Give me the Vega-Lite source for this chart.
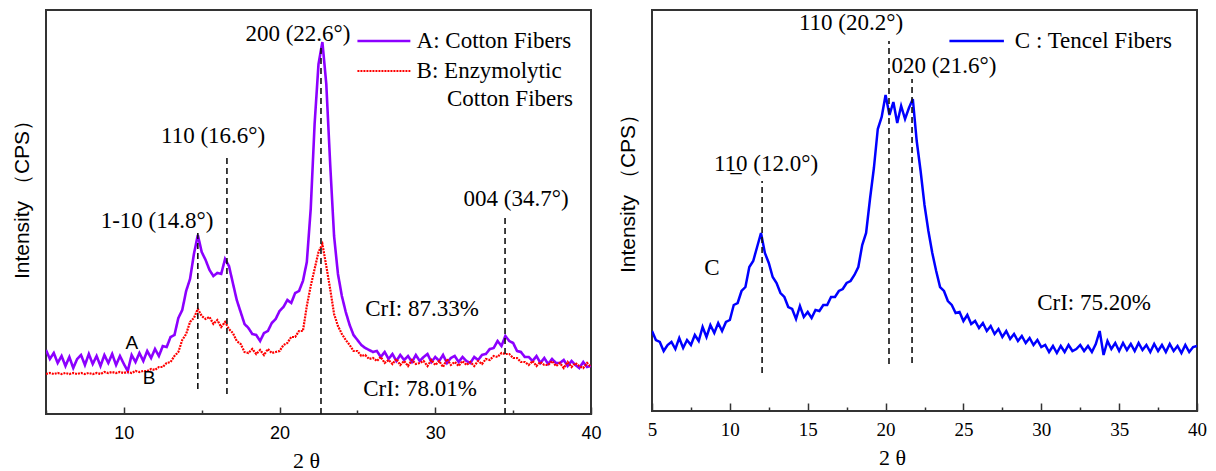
{
"$schema":"https://vega.github.io/schema/vega-lite/v6.json",
"padding":{"left":10,"top":9,"right":0,"bottom":0},
"spacing":13,
"datasets":{
"left":[
{"x":5,"A":64,"B":40},{"x":5.25,"A":55,"B":41},{"x":5.5,"A":61,"B":40},{"x":5.75,"A":51,"B":41},{"x":6,"A":58,"B":40},{"x":6.25,"A":48,"B":41},{"x":6.5,"A":57,"B":40},{"x":6.75,"A":46,"B":41},{"x":7,"A":55,"B":40},{"x":7.25,"A":59,"B":41},{"x":7.5,"A":49,"B":40},{"x":7.75,"A":60,"B":41},{"x":8,"A":50,"B":40},{"x":8.25,"A":58,"B":41},{"x":8.5,"A":48,"B":40},{"x":8.75,"A":59,"B":42},{"x":9,"A":51,"B":41},{"x":9.25,"A":60,"B":42},{"x":9.5,"A":49,"B":41},{"x":9.75,"A":58,"B":42},{"x":10,"A":50,"B":41},{"x":10.25,"A":43,"B":42},{"x":10.5,"A":59,"B":41},{"x":10.75,"A":52,"B":43},{"x":11,"A":61,"B":42},{"x":11.25,"A":53,"B":43},{"x":11.5,"A":63,"B":43},{"x":11.75,"A":56,"B":45},{"x":12,"A":65,"B":44},{"x":12.25,"A":58,"B":47},{"x":12.5,"A":68,"B":47},{"x":12.75,"A":67,"B":51},{"x":13,"A":77,"B":52},{"x":13.25,"A":79,"B":58},{"x":13.5,"A":96,"B":62},{"x":13.75,"A":104,"B":74},{"x":14,"A":123,"B":80},{"x":14.25,"A":135,"B":92},{"x":14.5,"A":160,"B":96},{"x":14.75,"A":179,"B":105},{"x":15,"A":162,"B":98},{"x":15.25,"A":154,"B":95},{"x":15.5,"A":144,"B":97},{"x":15.75,"A":138,"B":90},{"x":16,"A":141,"B":94},{"x":16.25,"A":140,"B":87},{"x":16.5,"A":155,"B":92},{"x":16.75,"A":148,"B":85},{"x":17,"A":131,"B":81},{"x":17.25,"A":114,"B":73},{"x":17.5,"A":102,"B":70},{"x":17.75,"A":90,"B":62},{"x":18,"A":86,"B":61},{"x":18.25,"A":80,"B":65},{"x":18.5,"A":79,"B":60},{"x":18.75,"A":73,"B":64},{"x":19,"A":81,"B":59},{"x":19.25,"A":83,"B":65},{"x":19.5,"A":91,"B":61},{"x":19.75,"A":95,"B":62},{"x":20,"A":103,"B":63},{"x":20.25,"A":107,"B":69},{"x":20.5,"A":114,"B":71},{"x":20.75,"A":111,"B":77},{"x":21,"A":121,"B":77},{"x":21.25,"A":123,"B":83},{"x":21.5,"A":133,"B":83},{"x":21.75,"A":152,"B":108},{"x":22,"A":205,"B":128},{"x":22.25,"A":290,"B":145},{"x":22.5,"A":350,"B":162},{"x":22.75,"A":372,"B":170},{"x":23,"A":330,"B":148},{"x":23.25,"A":250,"B":125},{"x":23.5,"A":178,"B":100},{"x":23.75,"A":140,"B":88},{"x":24,"A":118,"B":80},{"x":24.25,"A":102,"B":74},{"x":24.5,"A":89,"B":69},{"x":24.75,"A":79,"B":63},{"x":25,"A":74,"B":63},{"x":25.25,"A":69,"B":58},{"x":25.5,"A":66,"B":59},{"x":25.75,"A":64,"B":55},{"x":26,"A":62,"B":56},{"x":26.25,"A":63,"B":53},{"x":26.5,"A":57,"B":57},{"x":26.75,"A":62,"B":51},{"x":27,"A":55,"B":54},{"x":27.25,"A":60,"B":50},{"x":27.5,"A":53,"B":55},{"x":27.75,"A":59,"B":49},{"x":28,"A":54,"B":53},{"x":28.25,"A":58,"B":48},{"x":28.5,"A":52,"B":54},{"x":28.75,"A":59,"B":50},{"x":29,"A":53,"B":51},{"x":29.25,"A":57,"B":53},{"x":29.5,"A":60,"B":48},{"x":29.75,"A":52,"B":54},{"x":30,"A":57,"B":49},{"x":30.25,"A":53,"B":53},{"x":30.5,"A":59,"B":47},{"x":30.75,"A":51,"B":55},{"x":31,"A":56,"B":49},{"x":31.25,"A":58,"B":52},{"x":31.5,"A":52,"B":48},{"x":31.75,"A":57,"B":53},{"x":32,"A":53,"B":49},{"x":32.25,"A":51,"B":52},{"x":32.5,"A":57,"B":48},{"x":32.75,"A":54,"B":53},{"x":33,"A":59,"B":50},{"x":33.25,"A":60,"B":55},{"x":33.5,"A":65,"B":54},{"x":33.75,"A":66,"B":58},{"x":34,"A":73,"B":57},{"x":34.25,"A":68,"B":61},{"x":34.5,"A":78,"B":60},{"x":34.75,"A":73,"B":60},{"x":35,"A":71,"B":56},{"x":35.25,"A":63,"B":56},{"x":35.5,"A":62,"B":52},{"x":35.75,"A":57,"B":52},{"x":36,"A":57,"B":49},{"x":36.25,"A":53,"B":53},{"x":36.5,"A":58,"B":48},{"x":36.75,"A":51,"B":52},{"x":37,"A":56,"B":49},{"x":37.25,"A":50,"B":49},{"x":37.5,"A":55,"B":53},{"x":37.75,"A":51,"B":48},{"x":38,"A":51,"B":51},{"x":38.25,"A":54,"B":46},{"x":38.5,"A":48,"B":52},{"x":38.75,"A":53,"B":47},{"x":39,"A":49,"B":51},{"x":39.25,"A":46,"B":48},{"x":39.5,"A":52,"B":46},{"x":39.75,"A":47,"B":51},{"x":40,"A":48,"B":47}
],
"right":[
{"x":5,"C":80},{"x":5.25,"C":71},{"x":5.5,"C":69},{"x":5.75,"C":60},{"x":6,"C":66},{"x":6.25,"C":69},{"x":6.5,"C":62},{"x":6.75,"C":73},{"x":7,"C":63},{"x":7.25,"C":71},{"x":7.5,"C":66},{"x":7.75,"C":76},{"x":8,"C":70},{"x":8.25,"C":84},{"x":8.5,"C":74},{"x":8.75,"C":86},{"x":9,"C":78},{"x":9.25,"C":88},{"x":9.5,"C":80},{"x":9.75,"C":89},{"x":10,"C":91},{"x":10.25,"C":106},{"x":10.5,"C":108},{"x":10.75,"C":120},{"x":11,"C":124},{"x":11.25,"C":144},{"x":11.5,"C":150},{"x":11.75,"C":164},{"x":12,"C":178},{"x":12.25,"C":158},{"x":12.5,"C":148},{"x":12.75,"C":134},{"x":13,"C":128},{"x":13.25,"C":118},{"x":13.5,"C":114},{"x":13.75,"C":104},{"x":14,"C":102},{"x":14.25,"C":92},{"x":14.5,"C":105},{"x":14.75,"C":94},{"x":15,"C":99},{"x":15.25,"C":93},{"x":15.5,"C":101},{"x":15.75,"C":100},{"x":16,"C":106},{"x":16.25,"C":106},{"x":16.5,"C":114},{"x":16.75,"C":114},{"x":17,"C":120},{"x":17.25,"C":122},{"x":17.5,"C":128},{"x":17.75,"C":130},{"x":18,"C":136},{"x":18.25,"C":144},{"x":18.5,"C":166},{"x":18.75,"C":178},{"x":19,"C":212},{"x":19.25,"C":243},{"x":19.5,"C":282},{"x":19.75,"C":294},{"x":20,"C":316},{"x":20.25,"C":296},{"x":20.5,"C":309},{"x":20.75,"C":288},{"x":21,"C":305},{"x":21.25,"C":292},{"x":21.5,"C":303},{"x":21.75,"C":312},{"x":22,"C":270},{"x":22.25,"C":240},{"x":22.5,"C":206},{"x":22.75,"C":180},{"x":23,"C":158},{"x":23.25,"C":140},{"x":23.5,"C":124},{"x":23.75,"C":120},{"x":24,"C":110},{"x":24.25,"C":106},{"x":24.5,"C":98},{"x":24.75,"C":99},{"x":25,"C":90},{"x":25.25,"C":96},{"x":25.5,"C":87},{"x":25.75,"C":90},{"x":26,"C":83},{"x":26.25,"C":88},{"x":26.5,"C":80},{"x":26.75,"C":85},{"x":27,"C":77},{"x":27.25,"C":82},{"x":27.5,"C":74},{"x":27.75,"C":80},{"x":28,"C":72},{"x":28.25,"C":77},{"x":28.5,"C":70},{"x":28.75,"C":75},{"x":29,"C":68},{"x":29.25,"C":73},{"x":29.5,"C":66},{"x":29.75,"C":71},{"x":30,"C":64},{"x":30.25,"C":66},{"x":30.5,"C":59},{"x":30.75,"C":65},{"x":31,"C":58},{"x":31.25,"C":65},{"x":31.5,"C":59},{"x":31.75,"C":66},{"x":32,"C":60},{"x":32.25,"C":62},{"x":32.5,"C":66},{"x":32.75,"C":60},{"x":33,"C":65},{"x":33.25,"C":59},{"x":33.5,"C":67},{"x":33.75,"C":80},{"x":34,"C":56},{"x":34.25,"C":70},{"x":34.5,"C":62},{"x":34.75,"C":68},{"x":35,"C":60},{"x":35.25,"C":68},{"x":35.5,"C":61},{"x":35.75,"C":67},{"x":36,"C":60},{"x":36.25,"C":68},{"x":36.5,"C":61},{"x":36.75,"C":66},{"x":37,"C":59},{"x":37.25,"C":67},{"x":37.5,"C":60},{"x":37.75,"C":66},{"x":38,"C":59},{"x":38.25,"C":67},{"x":38.5,"C":60},{"x":38.75,"C":65},{"x":39,"C":58},{"x":39.25,"C":66},{"x":39.5,"C":59},{"x":39.75,"C":64},{"x":40,"C":65}
],
"leftRules":[{"x":14.75,"y":25,"y2":183},{"x":16.62,"y":20,"y2":256},{"x":22.66,"y":0,"y2":370},{"x":34.48,"y":0,"y2":196}],
"rightRules":[{"x":12.07,"y":38,"y2":230},{"x":20.22,"y":47,"y2":370},{"x":21.7,"y":48,"y2":332}],
"leftSerif":[{"x":21.18,"y":380,"t":"200 (22.6°)"},{"x":15.73,"y":278,"t":"110 (16.6°)"},{"x":12.13,"y":193,"t":"1-10 (14.8°)"},{"x":35.19,"y":215,"t":"004 (34.7°)"},{"x":29.15,"y":105,"t":"CrI: 87.33%"},{"x":29.02,"y":25,"t":"CrI: 78.01%"}],
"leftSans":[{"x":10.52,"y":71,"t":"A"},{"x":11.62,"y":36,"t":"B"}],
"leftLegendText":[{"x":28.8,"y":373,"t":"A: Cotton Fibers"},{"x":28.8,"y":343,"t":"B: Enzymolytic"},{"x":30.75,"y":315,"t":"Cotton Fibers"}],
"leftLegendLines":[{"series":"A","x":25.0,"x2":28.4,"y":373},{"series":"B","x":25.0,"x2":28.4,"y":343}],
"rightSerif":[{"x":17.78,"y":388,"t":"110 (20.2°)"},{"x":23.75,"y":345,"t":"020 (21.6°)"},{"x":12.32,"y":247,"t":"11\u03320 (12.0°)"},{"x":8.85,"y":143,"t":"C"},{"x":33.39,"y":108,"t":"CrI: 75.20%"}],
"rightLegendText":[{"x":28.3,"y":370,"t":"C : Tencel Fibers"}],
"rightLegendLines":[{"x":24.1,"x2":27.6,"y":370}]
},
"hconcat":[
{
"width":545,"height":404,
"encoding":{
"x":{"field":"x","type":"quantitative","scale":{"domain":[5,40],"nice":false,"zero":false},
"axis":{"values":[5,10,15,20,25,30,35,40],"labelExpr":"datum.value % 10 === 0 ? datum.label : ''","labelFont":"Liberation Sans","labelFontSize":18,"labelColor":"#000","labelPadding":17,"labelFlush":false,"tickSize":{"condition":{"test":"datum.value % 10 === 0","value":-7},"value":-4},"tickColor":"#333","tickWidth":1.5,"domain":false,"grid":false,"title":"2 θ","titleFont":"Liberation Serif","titleFontSize":22,"titleFontWeight":"normal","titleColor":"#000","titlePadding":8,"titleX":260}},
"y":{"field":"y","type":"quantitative","scale":{"domain":[0,404],"nice":false,"zero":false},
"axis":{"labels":false,"ticks":false,"domain":false,"grid":false,"title":"Intensity （CPS）","titleFont":"Liberation Sans","titleFontSize":21,"titleFontWeight":"normal","titleColor":"#000","titlePadding":14,"titleY":184}}
},
"layer":[
{"data":{"name":"left"},"transform":[{"fold":["A","B"],"as":["series","y"]}],
"mark":{"type":"line","clip":true},
"encoding":{
"color":{"field":"series","type":"nominal","scale":{"domain":["A","B"],"range":["#8c00ff","#ff0000"]},"legend":null},
"strokeDash":{"field":"series","type":"nominal","scale":{"domain":["A","B"],"range":[[1,0],[2,1]]},"legend":null},
"strokeWidth":{"field":"series","type":"ordinal","scale":{"domain":["A","B"],"range":[2.6,2.2]},"legend":null}
}},
{"data":{"name":"leftRules"},"mark":{"type":"rule","color":"#111","strokeDash":[6,4],"strokeWidth":1.6},"encoding":{"y2":{"field":"y2"}}},
{"data":{"name":"leftLegendLines"},"mark":{"type":"rule"},
"encoding":{"x2":{"field":"x2"},
"color":{"field":"series","type":"nominal","scale":{"domain":["A","B"],"range":["#8c00ff","#ff0000"]},"legend":null},
"strokeDash":{"field":"series","type":"nominal","scale":{"domain":["A","B"],"range":[[1,0],[1.5,1.2]]},"legend":null},
"strokeWidth":{"field":"series","type":"ordinal","scale":{"domain":["A","B"],"range":[2.5,1.8]},"legend":null}}},
{"data":{"name":"leftSerif"},"mark":{"type":"text","font":"Liberation Serif","fontSize":23,"color":"#000","baseline":"middle","align":"center"},"encoding":{"text":{"field":"t"}}},
{"data":{"name":"leftSans"},"mark":{"type":"text","font":"Liberation Sans","fontSize":19,"color":"#000","baseline":"middle","align":"center"},"encoding":{"text":{"field":"t"}}},
{"data":{"name":"leftLegendText"},"mark":{"type":"text","font":"Liberation Serif","fontSize":23,"color":"#000","baseline":"middle","align":"left"},"encoding":{"text":{"field":"t"}}}
]
},
{
"width":545,"height":401,
"encoding":{
"x":{"field":"x","type":"quantitative","scale":{"domain":[5,40],"nice":false,"zero":false},
"axis":{"values":[5,7.5,10,12.5,15,17.5,20,22.5,25,27.5,30,32.5,35,37.5,40],"labelExpr":"datum.value % 5 === 0 ? datum.label : ''","labelFont":"Liberation Serif","labelFontSize":19,"labelColor":"#000","labelPadding":17,"labelFlush":false,"tickSize":{"condition":{"test":"datum.value % 5 === 0","value":-8},"value":-4},"tickColor":"#333","tickWidth":1.5,"domain":false,"grid":false,"title":"2 θ","titleFont":"Liberation Serif","titleFontSize":22,"titleFontWeight":"normal","titleColor":"#000","titlePadding":8,"titleX":240}},
"y":{"field":"y","type":"quantitative","scale":{"domain":[0,401],"nice":false,"zero":false},
"axis":{"labels":false,"ticks":false,"domain":false,"grid":false,"title":"Intensity （CPS）","titleFont":"Liberation Sans","titleFontSize":21,"titleFontWeight":"normal","titleColor":"#000","titlePadding":14,"titleY":178}}
},
"layer":[
{"data":{"name":"right"},"mark":{"type":"line","color":"#0000ff","strokeWidth":2.5,"clip":true},"encoding":{"y":{"field":"C","type":"quantitative"}}},
{"data":{"name":"rightRules"},"mark":{"type":"rule","color":"#111","strokeDash":[6,4],"strokeWidth":1.6},"encoding":{"y2":{"field":"y2"}}},
{"data":{"name":"rightLegendLines"},"mark":{"type":"rule","color":"#0000ff","strokeWidth":2.5},"encoding":{"x2":{"field":"x2"}}},
{"data":{"name":"rightSerif"},"mark":{"type":"text","font":"Liberation Serif","fontSize":23,"color":"#000","baseline":"middle","align":"center"},"encoding":{"text":{"field":"t"}}},
{"data":{"name":"rightLegendText"},"mark":{"type":"text","font":"Liberation Serif","fontSize":23,"color":"#000","baseline":"middle","align":"left"},"encoding":{"text":{"field":"t"}}}
]
}
],
"config":{"view":{"stroke":"#333","strokeWidth":2},"background":"#ffffff"}
}
